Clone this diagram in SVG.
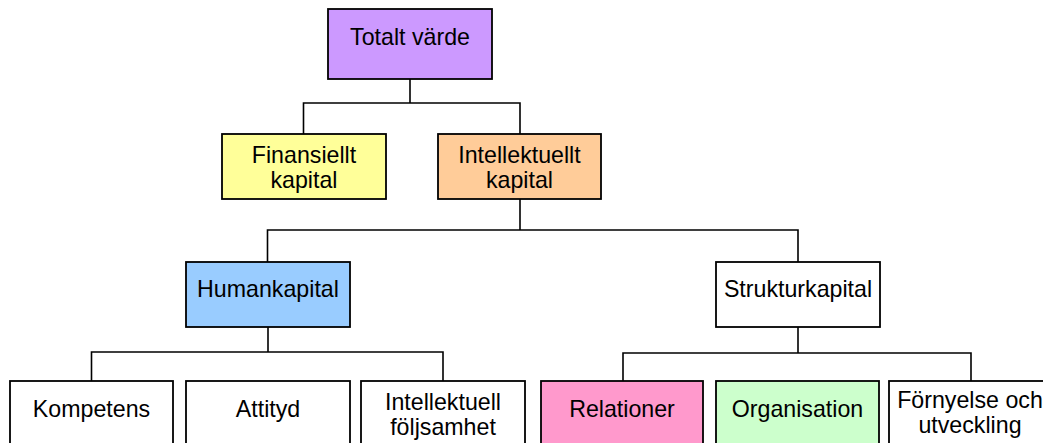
<svg xmlns="http://www.w3.org/2000/svg" width="1043" height="443" viewBox="0 0 1043 443">
<style>
.b{stroke:#000;stroke-width:1.8}
.t{font-family:"Liberation Sans",Arial,sans-serif;font-size:23.2px;fill:#000;text-anchor:middle}
.c{fill:none;stroke:#000;stroke-width:1.6}
</style>
<rect width="1043" height="443" fill="#fff"/>
<g id="connectors">
<path class="c" d="M410 79V103M303.5 134V103H520V134"/>
<path class="c" d="M520 199V230M267.5 262V230H798V262"/>
<path class="c" d="M268 327V352M91.5 381V352H443V381"/>
<path class="c" d="M798 327V353M623 381V353H971V381"/>
</g>
<g id="n-totalt"><rect class="b" x="328" y="9" width="164" height="70" fill="#CC99FF"/><text class="t" x="410" y="45">Totalt värde</text></g>
<g id="n-finansiellt"><rect class="b" x="222" y="134" width="164" height="65" fill="#FFFF99"/><text class="t" x="304" y="163">Finansiellt</text><text class="t" x="304" y="188">kapital</text></g>
<g id="n-intellektuellt"><rect class="b" x="438" y="134" width="163" height="65" fill="#FFCC99"/><text class="t" x="519.5" y="163">Intellektuellt</text><text class="t" x="519.5" y="188">kapital</text></g>
<g id="n-human"><rect class="b" x="186" y="262" width="164" height="65" fill="#99CCFF"/><text class="t" x="268" y="297">Humankapital</text></g>
<g id="n-struktur"><rect class="b" x="716" y="262" width="164" height="65" fill="#FFFFFF"/><text class="t" x="798" y="297">Strukturkapital</text></g>
<g id="n-kompetens"><rect class="b" x="10" y="381" width="163" height="70" fill="#FFFFFF"/><text class="t" x="91.5" y="417">Kompetens</text></g>
<g id="n-attityd"><rect class="b" x="186" y="381" width="164" height="70" fill="#FFFFFF"/><text class="t" x="268" y="417">Attityd</text></g>
<g id="n-foljsamhet"><rect class="b" x="361" y="381" width="164" height="70" fill="#FFFFFF"/><text class="t" x="443" y="410">Intellektuell</text><text class="t" x="443" y="435">följsamhet</text></g>
<g id="n-relationer"><rect class="b" x="541" y="381" width="162" height="70" fill="#FF99CC"/><text class="t" x="622" y="417">Relationer</text></g>
<g id="n-organisation"><rect class="b" x="716" y="381" width="163" height="70" fill="#CCFFCC"/><text class="t" x="797.5" y="417">Organisation</text></g>
<g id="n-fornyelse"><rect class="b" x="889" y="381" width="163" height="70" fill="#FFFFFF"/><text class="t" x="970" y="408">Förnyelse och</text><text class="t" x="970" y="433">utveckling</text></g>
</svg>
